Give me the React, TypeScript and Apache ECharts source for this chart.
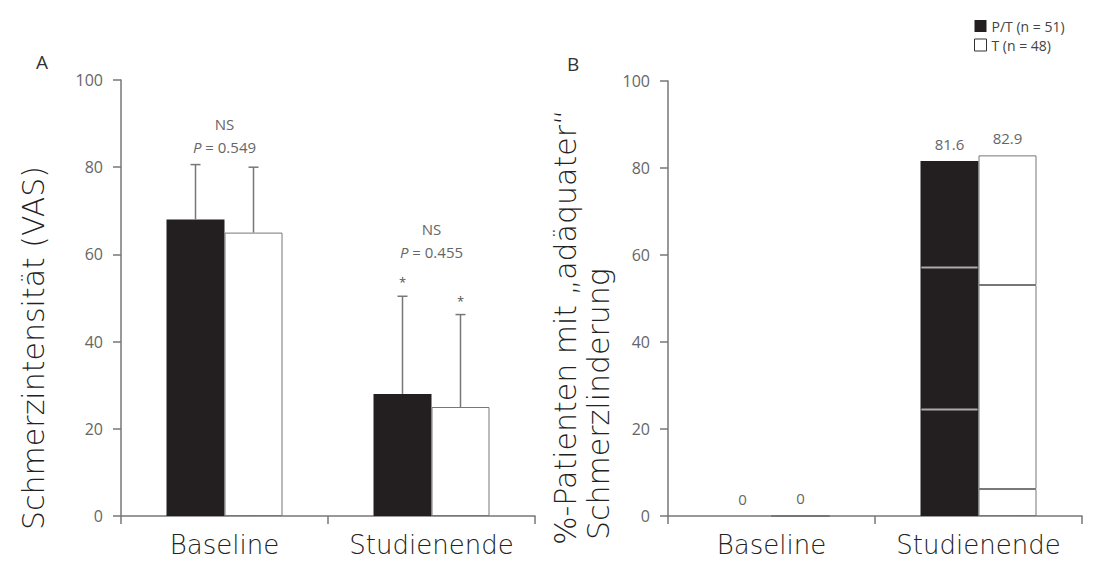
import React, { useEffect, useRef } from "react";
import * as echarts from "echarts";

// ---------- data ----------
const categories = ["Baseline", "Studienende"];
const seriesNames = ["P/T (n = 51)", "T (n = 48)"];

// Panel A: pain intensity (VAS), mean and SD
const vasPT = [68, 28];
const vasPTsd = [12.6, 22.4];
const vasT = [65, 25];
const vasTsd = [15, 21.2];
const sigPT = [false, true];
const sigT = [false, true];
const nsLabels = ["NS", "NS"];
const pValues = ["0.549", "0.455"];

// Panel B: % patients with adequate pain relief (stacked segments)
const reliefPTSeg1 = [0, 24.5];
const reliefPTSeg2 = [0, 32.6];
const reliefPTSeg3 = [0, 24.5];
const reliefTSeg1 = [0, 6.2];
const reliefTSeg2 = [0, 46.9];
const reliefTSeg3 = [0, 29.8];
const reliefPTTotal = [0, 81.6];
const reliefTTotal = [0, 82.9];

const yMin = 0;
const yMax = 100;
const yInterval = 20;

// ---------- styles ----------
const BAR_W = 58;
const BLACK = "#231f20";
const AXIS = "#777";
const TICK_TEXT = "#666";
const SANS = "'Open Sans', 'DejaVu Sans', sans-serif";
const BIG = "'DejaVu Sans', sans-serif";

export default function App() {
  const ref = useRef<HTMLDivElement>(null);

  useEffect(() => {
    if (!ref.current) return;
    const chart = echarts.init(ref.current, undefined, { renderer: "svg" });

    const errItems: { ci: number; mean: number; sd: number; side: number; sig: boolean }[] = [];
    categories.forEach((_, i) => {
      errItems.push({ ci: i, mean: vasPT[i], sd: vasPTsd[i], side: -1, sig: sigPT[i] });
      errItems.push({ ci: i, mean: vasT[i], sd: vasTsd[i], side: 1, sig: sigT[i] });
    });
    const annItems = categories.map((_, i) => ({
      ci: i,
      top: Math.max(vasPT[i] + vasPTsd[i], vasT[i] + vasTsd[i]),
      sig: sigPT[i] || sigT[i],
    }));

    // black-bar internal separators (cumulative boundaries)
    const sepItems: number[][] = [];
    categories.forEach((_, i) => {
      if (reliefPTTotal[i] > 0) {
        sepItems.push([i, reliefPTSeg1[i]]);
        sepItems.push([i, reliefPTSeg1[i] + reliefPTSeg2[i]]);
      }
    });

    const yAxisCommon = (gridIndex: number) => ({
      type: "value",
      gridIndex,
      min: yMin,
      max: yMax,
      interval: yInterval,
      axisLine: { show: true, lineStyle: { color: AXIS, width: 1.5 } },
      axisTick: { show: true, length: 8, lineStyle: { color: AXIS, width: 1.5 } },
      splitLine: { show: false },
      axisLabel: { color: TICK_TEXT, fontSize: 16, fontFamily: SANS, margin: 18 },
    });
    const xAxisCommon = (gridIndex: number) => ({
      type: "category",
      gridIndex,
      data: categories,
      axisLine: { show: true, lineStyle: { color: AXIS, width: 1.5 } },
      axisTick: { show: true, length: 8, lineStyle: { color: AXIS, width: 1.5 } },
      axisLabel: { color: "#222", fontSize: 26, fontFamily: BIG, fontWeight: 200, margin: 16, interval: 0 },
    });

    const whiteStyle = { color: "#fff", borderColor: AXIS, borderWidth: 1 };
    const blackStyle = { color: BLACK };

    const totalLabel = (arr: number[]) => ({
      show: true,
      position: "top",
      distance: 10,
      color: TICK_TEXT,
      fontSize: 15,
      fontFamily: SANS,
      formatter: (p: any) => String(arr[p.dataIndex]),
    });

    const option: any = {
      animation: false,
      backgroundColor: "#fff",
      legend: {
        orient: "vertical",
        left: 969,
        top: 14,
        itemWidth: 12,
        itemHeight: 12,
        itemGap: 5,
        icon: "rect",
        textStyle: { color: "#444", fontSize: 14, fontFamily: SANS },
        data: [
          { name: seriesNames[0], itemStyle: { color: BLACK } },
          { name: seriesNames[1], itemStyle: { color: "#fff", borderColor: "#333", borderWidth: 1 } },
        ],
      },
      grid: [
        { left: 121, top: 80, width: 414, height: 436 },
        { left: 668, top: 81, width: 414, height: 435 },
      ],
      xAxis: [xAxisCommon(0), xAxisCommon(1)],
      yAxis: [yAxisCommon(0), yAxisCommon(1)],
      graphic: [
        { type: "text", left: 36, top: 52, style: { text: "A", fontSize: 19, fill: "#333", fontFamily: SANS } },
        { type: "text", left: 567, top: 54, style: { text: "B", fontSize: 19, fill: "#333", fontFamily: SANS } },
        {
          type: "text",
          x: 33,
          y: 348,
          rotation: Math.PI / 2,
          style: {
            text: "Schmerzintensität (VAS)",
            fontSize: 30,
            fontFamily: BIG,
            fontWeight: 200,
            fill: "#222",
            align: "center",
            verticalAlign: "middle",
          },
        },
        {
          type: "text",
          x: 565,
          y: 545,
          rotation: Math.PI / 2,
          style: {
            text: "%-Patienten mit „adäquater“",
            fontSize: 30,
            fontFamily: BIG,
            fontWeight: 200,
            fill: "#222",
            align: "left",
            verticalAlign: "middle",
          },
        },
        {
          type: "text",
          x: 598,
          y: 540,
          rotation: Math.PI / 2,
          style: {
            text: "Schmerzlinderung",
            fontSize: 30,
            fontFamily: BIG,
            fontWeight: 200,
            fill: "#222",
            align: "left",
            verticalAlign: "middle",
          },
        },
      ],
      series: [
        // Panel A
        {
          name: seriesNames[0],
          type: "bar",
          xAxisIndex: 0,
          yAxisIndex: 0,
          data: vasPT,
          barWidth: BAR_W,
          barGap: "0%",
          itemStyle: blackStyle,
        },
        {
          name: seriesNames[1],
          type: "bar",
          xAxisIndex: 0,
          yAxisIndex: 0,
          data: vasT,
          barWidth: BAR_W,
          barGap: "0%",
          itemStyle: whiteStyle,
        },
        {
          type: "custom",
          xAxisIndex: 0,
          yAxisIndex: 0,
          z: 5,
          data: errItems.map((e) => [e.ci, e.mean, e.mean + e.sd]),
          renderItem: (params: any, api: any) => {
            const e = errItems[params.dataIndex];
            const base = api.coord([e.ci, e.mean]);
            const top = api.coord([e.ci, e.mean + e.sd]);
            const x = base[0] + (e.side * BAR_W) / 2;
            const children: any[] = [
              { type: "line", shape: { x1: x, y1: base[1], x2: x, y2: top[1] }, style: { stroke: AXIS, lineWidth: 1.5 } },
              { type: "line", shape: { x1: x - 5, y1: top[1], x2: x + 5, y2: top[1] }, style: { stroke: AXIS, lineWidth: 1.5 } },
            ];
            if (e.sig) {
              children.push({
                type: "text",
                style: {
                  text: "*",
                  x,
                  y: top[1] - 14,
                  fill: "#555",
                  fontSize: 13,
                  fontFamily: SANS,
                  align: "center",
                  verticalAlign: "middle",
                },
              });
            }
            return { type: "group", children };
          },
        },
        {
          type: "custom",
          xAxisIndex: 0,
          yAxisIndex: 0,
          z: 5,
          data: annItems.map((a) => [a.ci, a.top]),
          renderItem: (params: any, api: any) => {
            const a = annItems[params.dataIndex];
            const top = api.coord([a.ci, a.top]);
            const pY = top[1] - 18 - (a.sig ? 26 : 0);
            return {
              type: "group",
              children: [
                {
                  type: "text",
                  style: {
                    text: "{i|P} = " + pValues[a.ci],
                    x: top[0],
                    y: pY,
                    fill: TICK_TEXT,
                    fontSize: 15,
                    fontFamily: SANS,
                    align: "center",
                    verticalAlign: "middle",
                    rich: { i: { fontStyle: "italic", fontSize: 15, fontFamily: SANS, fill: TICK_TEXT } },
                  },
                },
                {
                  type: "text",
                  style: {
                    text: nsLabels[a.ci],
                    x: top[0],
                    y: pY - 23,
                    fill: TICK_TEXT,
                    fontSize: 15,
                    fontFamily: SANS,
                    align: "center",
                    verticalAlign: "middle",
                  },
                },
              ],
            };
          },
        },
        // Panel B
        { name: seriesNames[0], type: "bar", xAxisIndex: 1, yAxisIndex: 1, stack: "pt", data: reliefPTSeg1, barWidth: BAR_W, barGap: "0%", itemStyle: blackStyle },
        { name: seriesNames[0], type: "bar", xAxisIndex: 1, yAxisIndex: 1, stack: "pt", data: reliefPTSeg2, barWidth: BAR_W, barGap: "0%", itemStyle: blackStyle },
        {
          name: seriesNames[0],
          type: "bar",
          xAxisIndex: 1,
          yAxisIndex: 1,
          stack: "pt",
          data: reliefPTSeg3,
          barWidth: BAR_W,
          barGap: "0%",
          itemStyle: blackStyle,
          label: totalLabel(reliefPTTotal),
        },
        { name: seriesNames[1], type: "bar", xAxisIndex: 1, yAxisIndex: 1, stack: "t", data: reliefTSeg1, barWidth: BAR_W, barGap: "0%", itemStyle: whiteStyle },
        { name: seriesNames[1], type: "bar", xAxisIndex: 1, yAxisIndex: 1, stack: "t", data: reliefTSeg2, barWidth: BAR_W, barGap: "0%", itemStyle: whiteStyle },
        {
          name: seriesNames[1],
          type: "bar",
          xAxisIndex: 1,
          yAxisIndex: 1,
          stack: "t",
          data: reliefTSeg3,
          barWidth: BAR_W,
          barGap: "0%",
          itemStyle: whiteStyle,
          label: totalLabel(reliefTTotal),
        },
        {
          type: "custom",
          xAxisIndex: 1,
          yAxisIndex: 1,
          z: 5,
          data: sepItems,
          renderItem: (params: any, api: any) => {
            const p = api.coord([api.value(0), api.value(1)]);
            const x0 = p[0] - BAR_W;
            return {
              type: "line",
              shape: { x1: x0 + 1, y1: p[1], x2: p[0] - 1, y2: p[1] },
              style: { stroke: "#aaa", lineWidth: 2 },
            };
          },
        },
      ],
    };

    chart.setOption(option);
    return () => chart.dispose();
  }, []);

  return (
    <div
      ref={ref}
      style={{ position: "fixed", left: 0, top: 0, width: 1096, height: 568, background: "#fff" }}
    />
  );
}
